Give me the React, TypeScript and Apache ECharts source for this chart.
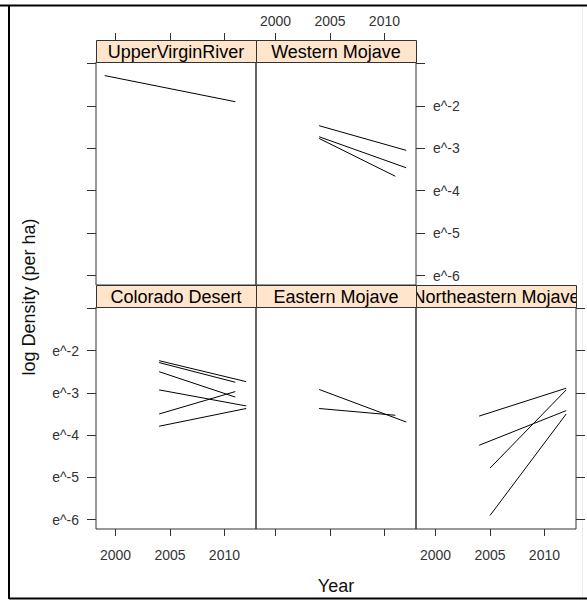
import React, { useEffect, useRef } from "react";
import * as echarts from "echarts";

// ---- data ----
const regions = [
  "UpperVirginRiver",
  "Western Mojave",
  "Colorado Desert",
  "Eastern Mojave",
  "Northeastern Mojave",
];
// each trend: [startYear, startLogDensity, endYear, endLogDensity]
const upperVirginRiver = [[1999, -1.29, 2011, -1.905]];
const westernMojave = [
  [2004, -2.47, 2012, -3.05],
  [2004, -2.73, 2012, -3.46],
  [2004, -2.77, 2011, -3.66],
];
const coloradoDesert = [
  [2004, -2.24, 2012, -2.735],
  [2004, -2.285, 2011, -2.75],
  [2004, -2.5, 2011, -3.1],
  [2004, -2.93, 2012, -3.31],
  [2004, -3.5, 2011, -2.97],
  [2004, -3.79, 2012, -3.37],
];
const easternMojave = [
  [2004, -2.92, 2012, -3.69],
  [2004, -3.37, 2011, -3.53],
];
const northeasternMojave = [
  [2004, -3.55, 2012, -2.89],
  [2004, -4.24, 2012, -3.42],
  [2005, -4.78, 2012, -2.93],
  [2005, -5.9, 2012, -3.5],
];
const trends = [upperVirginRiver, westernMojave, coloradoDesert, easternMojave, northeasternMojave];
const yearTicks = [2000, 2005, 2010];
const logTicks = [-6, -5, -4, -3, -2, -1];
const logLabels = [-6, -5, -4, -3, -2];
const xTitle = "Year";
const yTitle = "log Density (per ha)";

// ---- layout ----
const FONT = "'Liberation Sans', Arial, sans-serif";
const colLeft = [96, 256, 416];
const panelW = 160;
const stripH = 22;
const panels = [
  { col: 0, top: 62, h: 223 },
  { col: 1, top: 62, h: 223 },
  { col: 0, top: 307, h: 222 },
  { col: 1, top: 307, h: 222 },
  { col: 2, top: 307, h: 222 },
];
const X_MIN = 1998.2;
const X_MAX = 2012.9;
const Y_MIN = -6.22;
const Y_MAX = -0.97;

// which axis parts are visible per panel
const xCfg = [
  { pos: "top", ticks: true, labels: false },
  { pos: "top", ticks: true, labels: true },
  { pos: "bottom", ticks: true, labels: true },
  { pos: "bottom", ticks: true, labels: false },
  { pos: "bottom", ticks: true, labels: true },
];
const yCfg = [
  { pos: "left", ticks: true, labels: false },
  { pos: "right", ticks: true, labels: true },
  { pos: "left", ticks: true, labels: true },
  { pos: "left", ticks: false, labels: false },
  { pos: "right", ticks: true, labels: false },
];

export default function App() {
  const ref = useRef<HTMLDivElement>(null);
  useEffect(() => {
    if (!ref.current) return;
    const chart = echarts.init(ref.current, undefined, { renderer: "svg" });

    const grid = panels.map((p) => ({
      left: colLeft[p.col],
      top: p.top,
      width: panelW,
      height: p.h,
      show: true,
      borderColor: "#333",
      borderWidth: 1,
      backgroundColor: "transparent",
      containLabel: false,
      outerBoundsMode: "none",
    }));

    const labelStyle = { fontSize: 14, fontFamily: FONT, color: "#333" };

    const xAxis = panels.map((p, i) => ({
      gridIndex: i,
      type: "value",
      min: X_MIN,
      max: X_MAX,
      position: xCfg[i].pos,
      offset: xCfg[i].pos === "top" ? stripH : 0,
      axisLine: { show: false },
      splitLine: { show: false },
      axisTick: {
        show: xCfg[i].ticks,
        length: 7,
        lineStyle: { color: "#333", width: 1 },
        customValues: yearTicks,
      },
      axisLabel: {
        show: xCfg[i].labels,
        customValues: yearTicks,
        margin: xCfg[i].pos === "top" ? 12 : 19,
        formatter: (v: number) => String(v),
        ...labelStyle,
      },
    }));

    const yAxis = panels.map((p, i) => ({
      gridIndex: i,
      type: "value",
      min: Y_MIN,
      max: Y_MAX,
      position: yCfg[i].pos,
      show: yCfg[i].ticks,
      axisLine: { show: false },
      splitLine: { show: false },
      axisTick: {
        show: yCfg[i].ticks,
        length: 9,
        lineStyle: { color: "#333", width: 1 },
        customValues: logTicks,
      },
      axisLabel: {
        show: yCfg[i].labels,
        customValues: logLabels,
        margin: 17,
        formatter: (v: number) => "e^" + v,
        ...labelStyle,
      },
    }));

    const series: any[] = [];
    trends.forEach((list, i) => {
      list.forEach((t) => {
        series.push({
          type: "line",
          xAxisIndex: i,
          yAxisIndex: i,
          data: [
            [t[0], t[1]],
            [t[2], t[3]],
          ],
          symbol: "none",
          silent: true,
          lineStyle: { color: "#000", width: 1 },
        });
      });
    });

    const stripTop = (p: any) => p.top - stripH;
    const stripFill = (i: number) => {
      const p = panels[i];
      return {
        type: "rect",
        shape: { x: colLeft[p.col], y: stripTop(p), width: panelW, height: stripH },
        style: { fill: "#ffe5cc", stroke: "none" },
      };
    };
    const stripStroke = (i: number) => {
      const p = panels[i];
      return {
        type: "rect",
        shape: { x: colLeft[p.col] + 0.5, y: stripTop(p) + 0.5, width: panelW, height: stripH },
        style: { fill: "none", stroke: "#333", lineWidth: 1 },
      };
    };
    const stripText = (i: number) => {
      const p = panels[i];
      return {
        type: "text",
        x: colLeft[p.col] + panelW / 2,
        y: stripTop(p) + stripH / 2 + 1,
        style: {
          text: regions[i],
          fontSize: 18,
          fontFamily: FONT,
          fill: "#000",
          align: "center",
          verticalAlign: "middle",
        },
      };
    };

    const graphic: any[] = [
      // outer frame
      { type: "line", shape: { x1: 0, y1: 5.5, x2: 587, y2: 5.5 }, style: { stroke: "#000", lineWidth: 2 } },
      { type: "line", shape: { x1: 9, y1: 5, x2: 9, y2: 599 }, style: { stroke: "#000", lineWidth: 2 } },
      { type: "line", shape: { x1: 9, y1: 598.5, x2: 587, y2: 598.5 }, style: { stroke: "#000", lineWidth: 2 } },
      { type: "line", shape: { x1: 582.5, y1: 7, x2: 582.5, y2: 597 }, style: { stroke: "#ececec", lineWidth: 1 } },
      ...panels.map((_, i) => stripFill(i)),
      stripText(4),
      stripFill(3),
      {
        type: "rect",
        shape: { x: 577, y: 285.5, width: 5, height: 21 },
        style: { fill: "#fff", stroke: "none" },
      },
      ...panels.map((_, i) => stripStroke(i)),
      stripText(0),
      stripText(1),
      stripText(2),
      stripText(3),
      {
        type: "text",
        x: 336,
        y: 586,
        style: { text: xTitle, fontSize: 18, fontFamily: FONT, fill: "#111", align: "center", verticalAlign: "middle" },
      },
      {
        type: "text",
        x: 29,
        y: 297,
        rotation: Math.PI / 2,
        style: { text: yTitle, fontSize: 18, fontFamily: FONT, fill: "#111", align: "center", verticalAlign: "middle" },
      },
    ];

    chart.setOption({
      animation: false,
      backgroundColor: "#fff",
      grid,
      xAxis,
      yAxis,
      series,
      graphic,
    });
    return () => chart.dispose();
  }, []);

  return (
    <div
      ref={ref}
      style={{ position: "absolute", left: 0, top: 0, width: 587, height: 600 }}
    />
  );
}
